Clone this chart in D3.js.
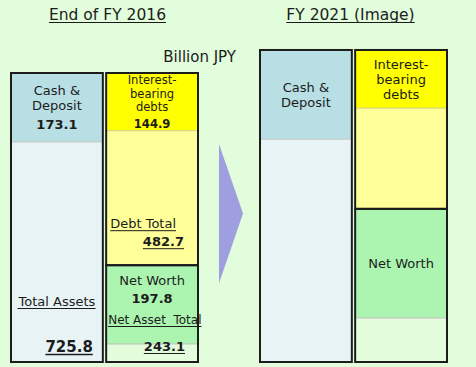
<!DOCTYPE html>
<html>
<head>
<meta charset="utf-8">
<script src="https://cdn.jsdelivr.net/npm/d3@7"></script>
<style>
  html, body { margin: 0; padding: 0; background: #e2fddc; }
  svg { display: block; font-family: "DejaVu Sans", Verdana, sans-serif; }
</style>
</head>
<body>
<svg id="chart" width="476" height="367"></svg>
<script>
// Balance sheet snapshot (billion JPY); the second period is a projected image with no stated figures
const periods       = ["End of FY 2016", "FY 2021 (Image)"];
const showValues    = [true, false];
const cashDeposit   = [173.1, 224.0];
const totalAssets   = [725.8, 783.6];
const interestDebt  = [144.9, 146.0];
const debtTotal     = [482.7, 399.0];
const netWorth      = [197.8, 274.0];
const netAssetTotal = [243.1, 384.6];
const unitLabel     = "Billion JPY";
const cashLabel     = ["Cash &", "Deposit"];
const interestLabel = ["Interest-", "bearing", "debts"];
const netWorthLabel = ["Net Worth"];
const totalLabels   = { assets: "Total Assets", debt: "Debt Total", netAssets: "Net Asset  Total" };

const svg = d3.select("#chart");
const ink = "#1c1c1c";

const y = d3.scaleLinear().domain([0, totalAssets[0]]).range([362, 73]);
const x = d3.scaleBand().domain(periods).range([11, 447]).paddingInner(0.249);
const side = d3.scaleBand().domain(["assets", "claims"]).range([0, x.bandwidth()]).paddingInner(0.035);

const fills = {
  cash: "#b8dfe4", assetRest: "#e8f3f6",
  interest: "#ffff00", debtRest: "#ffff99",
  netWorth: "#abf5b0", netRest: "#e2fcdc"
};

const underlined = [];

function addText(g, str, px, py, opts = {}) {
  const t = g.append("text")
    .attr("x", px).attr("y", py)
    .attr("text-anchor", opts.anchor || "middle")
    .attr("font-size", opts.size || 13)
    .attr("font-weight", opts.bold ? "bold" : "normal")
    .attr("fill", ink)
    .style("white-space", "pre")
    .attr("xml:space", "preserve")
    .text(str);
  if (opts.underline) underlined.push({ g, t, py, w: opts.underlineWidth || 1 });
  return t;
}

// Stack of label lines centred vertically in [top, bottom]; shrunk to fit short segments
function labelBlock(g, lines, value, cx, top, bottom) {
  let size = 13, cap = 9.5;
  const gaps = lines.slice(1).map(() => 15);
  if (value != null) gaps.push(18.5);
  let span = d3.sum(gaps) + cap;
  const room = bottom - top - 4;
  if (span > room && gaps.length) {
    const k = (room - cap) / (span - cap);
    gaps.forEach((d, j) => gaps[j] = d * k);
    size = Math.min(13, d3.min(gaps) / 1.18);
    cap = size * 0.73;
    span = d3.sum(gaps) + cap;
  }
  let base = (top + bottom) / 2 - span / 2 + cap;
  const all = value != null ? lines.concat([d3.format(".1f")(value)]) : lines;
  all.forEach((s, j) => {
    addText(g, s, cx, base, { size, bold: value != null && j === all.length - 1 });
    if (j < gaps.length) base += gaps[j];
  });
}

function segment(g, x0, w, vTop, vBottom, fill) {
  g.append("rect")
    .attr("x", x0).attr("width", w)
    .attr("y", y(vTop)).attr("height", y(vBottom) - y(vTop))
    .attr("fill", fill);
}

function divider(g, x0, w, v, color) {
  g.append("line")
    .attr("x1", x0).attr("x2", x0 + w)
    .attr("y1", y(v)).attr("y2", y(v))
    .attr("stroke", color).attr("stroke-width", 1);
}

function frame(g, x0, w, vTop, vBottom) {
  g.append("rect")
    .attr("x", x0).attr("width", w)
    .attr("y", y(vTop)).attr("height", y(vBottom) - y(vTop))
    .attr("fill", "none").attr("stroke", ink).attr("stroke-width", 2);
}

periods.forEach((p, i) => {
  const g = svg.append("g");
  const px = x(p);
  const ax = px + side("assets"), cx = px + side("claims"), w = side.bandwidth();
  const total = totalAssets[i];
  const debtBottom = total - debtTotal[i];
  const vals = showValues[i];

  // Title
  addText(g, p, px + x.bandwidth() / 2 + (i === 0 ? 3 : -3), 20, { size: 15.5, underline: true });

  // Assets column
  segment(g, ax, w, total, total - cashDeposit[i], fills.cash);
  segment(g, ax, w, total - cashDeposit[i], 0, fills.assetRest);
  divider(g, ax, w, total - cashDeposit[i], "#c4c4c4");
  frame(g, ax, w, total, 0);

  // Debt box
  segment(g, cx, w, total, total - interestDebt[i], fills.interest);
  segment(g, cx, w, total - interestDebt[i], debtBottom, fills.debtRest);
  divider(g, cx, w, total - interestDebt[i], "#cfcf8c");

  // Net asset box
  segment(g, cx, w, netAssetTotal[i], netAssetTotal[i] - netWorth[i], fills.netWorth);
  segment(g, cx, w, netAssetTotal[i] - netWorth[i], 0, fills.netRest);
  divider(g, cx, w, netAssetTotal[i] - netWorth[i], "#c0c0c0");
  frame(g, cx, w, total, debtBottom);
  frame(g, cx, w, netAssetTotal[i], 0);

  // In-segment labels
  labelBlock(g, cashLabel, vals ? cashDeposit[i] : null, ax + w / 2,
    y(total), y(total - cashDeposit[i]));
  labelBlock(g, interestLabel, vals ? interestDebt[i] : null, cx + w / 2,
    y(total), y(total - interestDebt[i]));
  labelBlock(g, netWorthLabel, vals ? netWorth[i] : null, cx + w / 2,
    y(netAssetTotal[i]), vals ? y(0) - 49 : y(netAssetTotal[i] - netWorth[i]));

  if (vals) {
    addText(g, totalLabels.assets, ax + w / 2, y(0) - 56, { underline: true });
    addText(g, d3.format(".1f")(total), ax + w - 10, y(0) - 10,
      { anchor: "end", bold: true, size: 15, underline: true, underlineWidth: 1.5 });
    addText(g, totalLabels.debt, cx + 4, y(debtBottom) - 37, { anchor: "start", underline: true });
    addText(g, d3.format(".1f")(debtTotal[i]), cx + w - 14, y(debtBottom) - 19,
      { anchor: "end", bold: true, underline: true });
    addText(g, totalLabels.netAssets, cx + 2, y(0) - 38, { anchor: "start", size: 12, underline: true });
    addText(g, d3.format(".1f")(netAssetTotal[i]), cx + w - 13, y(0) - 11,
      { anchor: "end", bold: true, underline: true });
  }
});

// Unit note
addText(svg, unitLabel, x(periods[0]) + x.bandwidth() + 38, 62, { anchor: "end", size: 15 });

// Transition arrow between the two periods
const gapL = x(periods[0]) + x.bandwidth(), gapR = x(periods[1]);
const gapMid = (gapL + gapR) / 2;
const arrowTop = y(totalAssets[0] - cashDeposit[0]) + 2;
const arrowBottom = y(totalAssets[0] - debtTotal[0]) + 18;
svg.append("path")
  .attr("d", d3.line()([
    [gapMid - 10, arrowTop],
    [gapMid + 14, (arrowTop + arrowBottom) / 2],
    [gapMid - 10, arrowBottom]
  ]) + "Z")
  .attr("fill", "#9e9ee0");

// Underlines measured from the rendered text
underlined.forEach(({ g, t, py, w }) => {
  const b = t.node().getBBox();
  g.append("line")
    .attr("x1", b.x).attr("x2", b.x + b.width)
    .attr("y1", py + 2.5).attr("y2", py + 2.5)
    .attr("stroke", ink).attr("stroke-width", w);
});
</script>
</body>
</html>
